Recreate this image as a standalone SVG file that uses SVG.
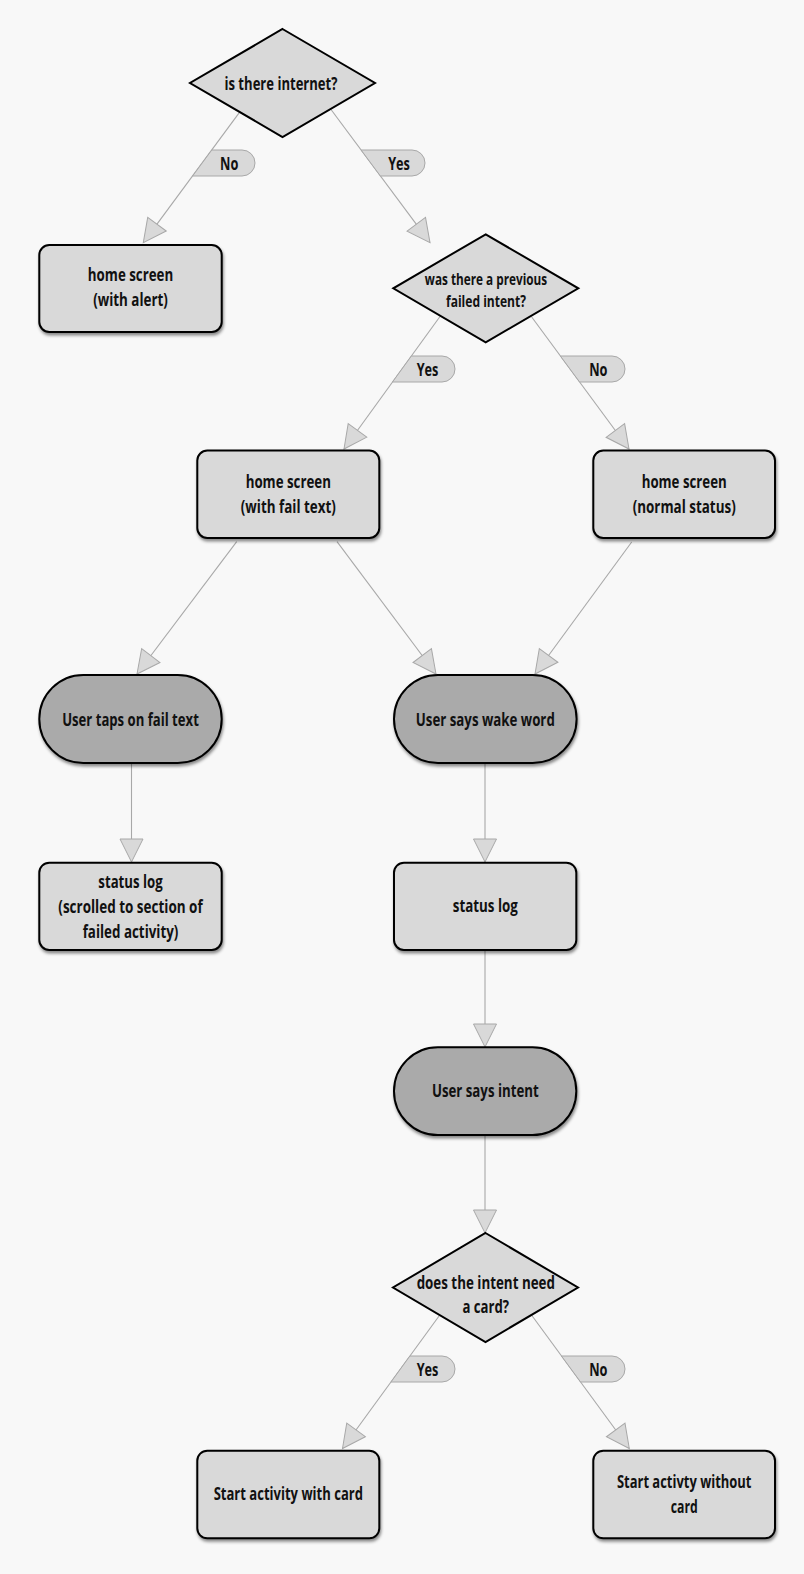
<svg xmlns="http://www.w3.org/2000/svg" width="804" height="1574" viewBox="0 0 804 1574">
<defs>
<style>
.bg{fill:#f8f8f8}
.box{fill:#d9d9d9;stroke:#000;stroke-width:2;filter:url(#sh)}
.act{fill:#aaaaaa;stroke:#000;stroke-width:2;filter:url(#sh)}
.dia{fill:#d9d9d9;stroke:#000;stroke-width:2}
.ln{fill:none;stroke:#a8a8a8;stroke-width:1.1;marker-end:url(#ah)}
.lab{fill:#d9d9d9;stroke:#a8a8a8;stroke-width:1}
text{font-family:"Open Sans","Liberation Sans",sans-serif;font-weight:700;font-size:18px;fill:#111;text-anchor:middle}
.sm{font-size:16.5px}
</style>
<filter id="sh" x="-10%" y="-10%" width="125%" height="130%">
<feDropShadow dx="1" dy="2.5" stdDeviation="1.5" flood-color="#000" flood-opacity="0.45"/>
</filter>
<marker id="ah" markerUnits="userSpaceOnUse" markerWidth="26" markerHeight="26" refX="23" refY="11.5" orient="auto" overflow="visible">
<path d="M0,0 L23,11.5 L0,23 Z" fill="#d9d9d9" stroke="#a8a8a8" stroke-width="1"/>
</marker>
</defs>
<rect class="bg" x="0" y="0" width="804" height="1574"/>

<g id="connectors">
<line class="ln" x1="239.3" y1="112.7" x2="143.3" y2="242.7"/>
<line class="ln" x1="331" y1="109.5" x2="430" y2="242.7"/>
<line class="ln" x1="440" y1="316.5" x2="344" y2="449"/>
<line class="ln" x1="531.7" y1="317" x2="629" y2="449"/>
<line class="ln" x1="236.7" y1="541.7" x2="137" y2="674"/>
<line class="ln" x1="337" y1="541.7" x2="436" y2="674"/>
<line class="ln" x1="631.7" y1="542" x2="535" y2="674"/>
<line class="ln" x1="131.5" y1="763" x2="131.5" y2="862"/>
<line class="ln" x1="485" y1="763" x2="485" y2="862"/>
<line class="ln" x1="485" y1="950" x2="485" y2="1047"/>
<line class="ln" x1="485" y1="1135" x2="485" y2="1233"/>
<line class="ln" x1="439.8" y1="1315" x2="342.5" y2="1448.5"/>
<line class="ln" x1="531.5" y1="1315" x2="629.3" y2="1448.5"/>

<path class="lab" d="M211.8,150 L242,150 A13,13 0 0 1 242,176 L192.6,176 Z"/>
<text x="229.2" y="169.5" textLength="18.3" lengthAdjust="spacingAndGlyphs">No</text>
<path class="lab" d="M361.1,150 L412,150 A13,13 0 0 1 412,176 L380.4,176 Z"/>
<text x="399" y="169.5" textLength="21.7" lengthAdjust="spacingAndGlyphs">Yes</text>
<path class="lab" d="M411.4,356 L442,356 A13,13 0 0 1 442,382 L392.5,382 Z"/>
<text x="427.5" y="375.5" textLength="21.7" lengthAdjust="spacingAndGlyphs">Yes</text>
<path class="lab" d="M560.4,356 L612,356 A13,13 0 0 1 612,382 L579.6,382 Z"/>
<text x="598.3" y="375.5" textLength="18.3" lengthAdjust="spacingAndGlyphs">No</text>
<path class="lab" d="M409.9,1356 L442,1356 A13,13 0 0 1 442,1382 L391,1382 Z"/>
<text x="427.5" y="1375.5" textLength="21.7" lengthAdjust="spacingAndGlyphs">Yes</text>
<path class="lab" d="M561.5,1356 L612,1356 A13,13 0 0 1 612,1382 L580.6,1382 Z"/>
<text x="598.3" y="1375.5" textLength="18.3" lengthAdjust="spacingAndGlyphs">No</text>
</g>

<g id="internet">
<polygon class="dia" points="282.5,29 375,83 282.5,137 190,83"/>
<text x="281" y="89.5" textLength="113" lengthAdjust="spacingAndGlyphs">is there internet?</text>
</g>

<g id="home-alert">
<rect class="box" x="39.3" y="245" width="182.4" height="87" rx="10"/>
<text x="130.5" y="281" textLength="85.3" lengthAdjust="spacingAndGlyphs">home screen</text>
<text x="130.5" y="306" textLength="74.7" lengthAdjust="spacingAndGlyphs">(with alert)</text>
</g>

<g id="previous-failed">
<polygon class="dia" points="485.7,234.3 578.3,288.3 485.7,342.3 393.3,288.3"/>
<text class="sm" x="486" y="284.5" textLength="122.3" lengthAdjust="spacingAndGlyphs">was there a previous</text>
<text class="sm" x="486" y="306.5" textLength="80" lengthAdjust="spacingAndGlyphs">failed intent?</text>
</g>

<g id="home-fail">
<rect class="box" x="197.3" y="450.5" width="182" height="87.5" rx="10"/>
<text x="288.3" y="487.5" textLength="85.3" lengthAdjust="spacingAndGlyphs">home screen</text>
<text x="288.3" y="512.5" textLength="95" lengthAdjust="spacingAndGlyphs">(with fail text)</text>
</g>

<g id="home-normal">
<rect class="box" x="593.3" y="450.5" width="181.7" height="87.5" rx="10"/>
<text x="684.2" y="487.5" textLength="85" lengthAdjust="spacingAndGlyphs">home screen</text>
<text x="684.2" y="512.5" textLength="103" lengthAdjust="spacingAndGlyphs">(normal status)</text>
</g>

<g id="user-taps">
<rect class="act" x="39.3" y="675" width="182.4" height="88" rx="44"/>
<text x="130.5" y="726" textLength="136.7" lengthAdjust="spacingAndGlyphs">User taps on fail text</text>
</g>

<g id="user-wake">
<rect class="act" x="394" y="675" width="182.6" height="88" rx="44"/>
<text x="485.3" y="725.5" textLength="139" lengthAdjust="spacingAndGlyphs">User says wake word</text>
</g>

<g id="status-log-failed">
<rect class="box" x="39.3" y="862.7" width="182.4" height="87.3" rx="10"/>
<text x="130.5" y="888.3" textLength="64.3" lengthAdjust="spacingAndGlyphs">status log</text>
<text x="130.5" y="913" textLength="144.3" lengthAdjust="spacingAndGlyphs">(scrolled to section of</text>
<text x="130.5" y="937.7" textLength="95.7" lengthAdjust="spacingAndGlyphs">failed activity)</text>
</g>

<g id="status-log">
<rect class="box" x="394" y="862.7" width="182.3" height="87.3" rx="10"/>
<text x="485.3" y="911.7" textLength="65" lengthAdjust="spacingAndGlyphs">status log</text>
</g>

<g id="user-intent">
<rect class="act" x="394" y="1047.3" width="182.3" height="87.7" rx="43.8"/>
<text x="485.3" y="1096.7" textLength="106.7" lengthAdjust="spacingAndGlyphs">User says intent</text>
</g>

<g id="need-card">
<polygon class="dia" points="485.5,1233 578,1287.5 485.5,1342 393,1287.5"/>
<text x="485.8" y="1289.3" textLength="138.3" lengthAdjust="spacingAndGlyphs">does the intent need</text>
<text x="485.8" y="1313.3" textLength="46.7" lengthAdjust="spacingAndGlyphs">a card?</text>
</g>

<g id="start-with-card">
<rect class="box" x="197.3" y="1450.7" width="182" height="87.6" rx="10"/>
<text x="288.3" y="1500" textLength="149.3" lengthAdjust="spacingAndGlyphs">Start activity with card</text>
</g>

<g id="start-without-card">
<rect class="box" x="593.3" y="1450.7" width="181.7" height="87.6" rx="10"/>
<text x="684.2" y="1487.5" textLength="134.5" lengthAdjust="spacingAndGlyphs">Start activty without</text>
<text x="684.2" y="1512.5" textLength="27" lengthAdjust="spacingAndGlyphs">card</text>
</g>
</svg>
